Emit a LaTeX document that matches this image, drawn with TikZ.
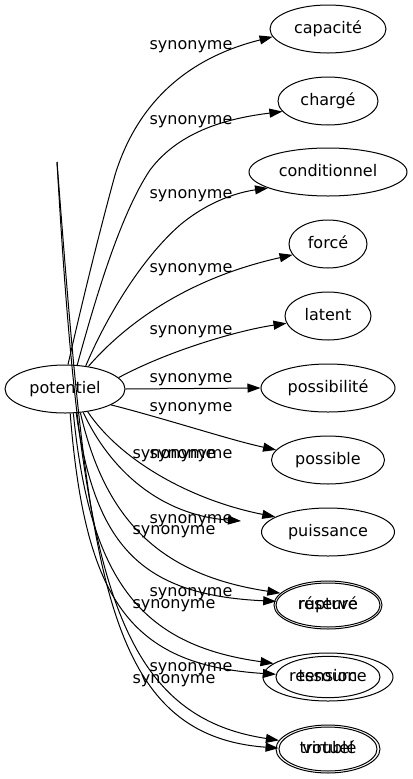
\documentclass[tikz,border=0pt]{standalone}
\usepackage{fontspec}
\setmainfont{DejaVu Sans}
\usetikzlibrary{arrows.meta,shapes.geometric}
\begin{document}
\begin{tikzpicture}[x=0.75pt,y=-0.75pt,
  word/.style={draw,ellipse,line width=0.75pt,inner sep=0pt,minimum height=36pt,text height=9pt,text depth=3pt,font=\fontsize{12pt}{14pt}\selectfont},
  syn/.style={font=\fontsize{12pt}{14pt}\selectfont,inner sep=0pt,anchor=base},
  link/.style={line width=0.75pt,-{Triangle[length=9.75pt,width=6.75pt]}}]
\useasboundingbox (0,0) rectangle (413,779);
% nodes
\node[word,minimum width=90pt] (pot) at (65,389) {potentiel};
\node[word,minimum width=87pt] (cap) at (328,29) {capacité};
\node[word,minimum width=75pt] (cha) at (328,101) {chargé};
\node[word,minimum width=118.5pt] (con) at (328,172) {conditionnel};
\node[word,minimum width=58.5pt] (for) at (328,244) {forcé};
\node[word,minimum width=64.5pt] (lat) at (328,316) {latent};
\node[word,minimum width=100.5pt] (pbt) at (328,388) {possibilité};
\node[word,minimum width=84.75pt] (pbl) at (328,460) {possible};
\node[word,minimum width=99.75pt] (pui) at (328,532) {puissance};
\node[word,minimum width=81pt] (res) at (328,605) {réservé};
\node[word,minimum width=78pt,minimum height=33pt] (rup) at (328,605) {rupture};
\node[word,minimum width=97.5pt] (rsc) at (328,677) {ressource};
\node[word,minimum width=78pt,minimum height=31pt] (ten) at (328,677) {tension};
\node[word,minimum width=78pt] (tro) at (328,749) {troublé};
\node[word,minimum width=73.5pt,minimum height=33pt] (vir) at (328,749) {virtuel};
\coordinate (fl) at (241,521);
\coordinate (top) at (57,162);
% edges
\draw[link] (pot.83) .. controls (85,290) and (100,230) .. (115,175) .. controls (135,110) and (180,60) .. (cap.188);
\draw[link] (pot.63) .. controls (95,300) and (120,215) .. (150,170) .. controls (180,130) and (230,118) .. (cha.193);
\draw[link] (pot.48) .. controls (105,320) and (140,260) .. (180,225) .. controls (210,200) and (240,192) .. (con.195);
\draw[link] (pot.44) .. controls (120,330) and (180,280) .. (for.197);
\draw[link] (pot.12) .. controls (170,350) and (240,330) .. (lat.190);
\draw[link] (pot.east) -- (pbt.west);
\draw[link] (pot.-19) .. controls (170,420) and (230,440) .. (pbl.169);
\draw[link] (pot.-45) .. controls (120,460) and (190,500) .. (pui.164);
\draw[link] (pot.-52) .. controls (110,470) and (160,515) .. (fl);
\draw[link] (pot.-57) .. controls (105,520) and (160,575) .. (res.166);
\draw[link] (pot.-65) .. controls (95,545) and (140,595) .. (rup.176);
\draw[link] (pot.-71) .. controls (90,580) and (140,645) .. (rsc.166);
\draw[link] (pot.-78) .. controls (85,600) and (130,665) .. (ten.177);
\draw[link] (top) .. controls (80,560) and (110,715) .. (tro.170);
\draw[link] (top) .. controls (88,560) and (100,735) .. (vir.179);
% labels
\node[syn] (l1) at (191,49.5) {synonyme};
\node[syn] (l2) at (191,124.5) {synonyme};
\node[syn] (l3) at (191,198.5) {synonyme};
\node[syn] (l4) at (191,272.5) {synonyme};
\node[syn] (l5) at (191,334.5) {synonyme};
\node[syn] (l6) at (191,382.5) {synonyme};
\node[syn] (l7) at (191,411.5) {synonyme};
\node[syn] (l8) at (174,458.5) {synonyme};
\node[syn] (l9) at (191,458.5) {synonyme};
\node[syn] (l10) at (191,523.5) {synonyme};
\node[syn] (l11) at (174,534.5) {synonyme};
\node[syn] (l12) at (191,596.5) {synonyme};
\node[syn] (l13) at (174,608.5) {synonyme};
\node[syn] (l14) at (191,671.5) {synonyme};
\node[syn] (l15) at (174,683.5) {synonyme};
\end{tikzpicture}
\end{document}
